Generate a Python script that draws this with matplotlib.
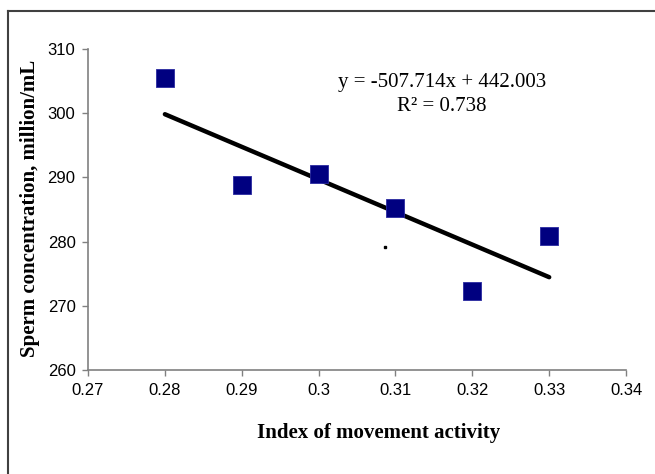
import numpy as np
import matplotlib
matplotlib.use('Agg')
import matplotlib.pyplot as plt
from matplotlib.lines import Line2D

# data
movement_index = [0.28, 0.29, 0.30, 0.31, 0.32, 0.33]
sperm_conc = [305.5, 288.8, 290.5, 285.3, 272.3, 280.8]

# trend line as printed on the chart
slope = -507.714
intercept = 442.003
r_squared = 0.738

# stray dot in the plot area
stray_x = [0.3087]
stray_y = [279.2]

x_ticks = [0.27, 0.28, 0.29, 0.30, 0.31, 0.32, 0.33, 0.34]
x_tick_labels = ['0.27', '0.28', '0.29', '0.3', '0.31', '0.32', '0.33', '0.34']
y_ticks = [260, 270, 280, 290, 300, 310]

fig = plt.figure(figsize=(6.55, 4.74), dpi=100)
ax = fig.add_axes([0.1344, 0.2194, 0.8214, 0.6772])

# outer chart border (only top and left visible)
fig.add_artist(Line2D([0.0122, 1.0], [0.9768, 0.9768], transform=fig.transFigure,
                      color='#404040', lw=1.5))
fig.add_artist(Line2D([0.0122, 0.0122], [0.0, 0.9768], transform=fig.transFigure,
                      color='#404040', lw=1.5))

# trend line
xs = np.array([min(movement_index), max(movement_index)])
ax.plot(xs, slope * xs + intercept, color='black', lw=3.2, solid_capstyle='round', zorder=2)

ax.scatter(movement_index, sperm_conc, marker='s', s=165, color='#000080',
           edgecolors='#2a2aa0', linewidths=0.6, zorder=3)
ax.plot(stray_x, stray_y, marker='s', ms=2, color='black', ls='none')

ax.set_xlim(0.27, 0.34)
ax.set_ylim(260, 310)
ax.set_xticks(x_ticks)
ax.set_xticklabels(x_tick_labels)
ax.set_yticks(y_ticks)

for side in ['top', 'right']:
    ax.spines[side].set_visible(False)
for side in ['left', 'bottom']:
    ax.spines[side].set_color('#808080')
    ax.spines[side].set_linewidth(1.2)

ax.tick_params(axis='both', direction='out', length=4, width=1, color='#808080',
               labelsize=12, pad=5)
for lbl in ax.get_xticklabels() + ax.get_yticklabels():
    lbl.set_fontfamily('Liberation Sans')

ax.set_xlabel('Index of movement activity', fontsize=15, fontweight='bold',
              fontfamily='Liberation Serif')
ax.xaxis.set_label_coords(0.541, -0.165)
ax.set_ylabel('Sperm concentration, million/mL', fontsize=15, fontweight='bold',
              fontfamily='Liberation Serif')
ax.yaxis.set_label_coords(-0.089, 0.505)

ax.text(0.658, 0.8816, f'y = {slope:.3f}x + {intercept:.3f}', transform=ax.transAxes,
        ha='center', va='baseline', fontsize=15, fontfamily='Liberation Serif')
ax.text(0.658, 0.8068, f'R\u00b2 = {r_squared:.3f}', transform=ax.transAxes,
        ha='center', va='baseline', fontsize=15, fontfamily='Liberation Serif')

fig.savefig('out.png', dpi=100)
